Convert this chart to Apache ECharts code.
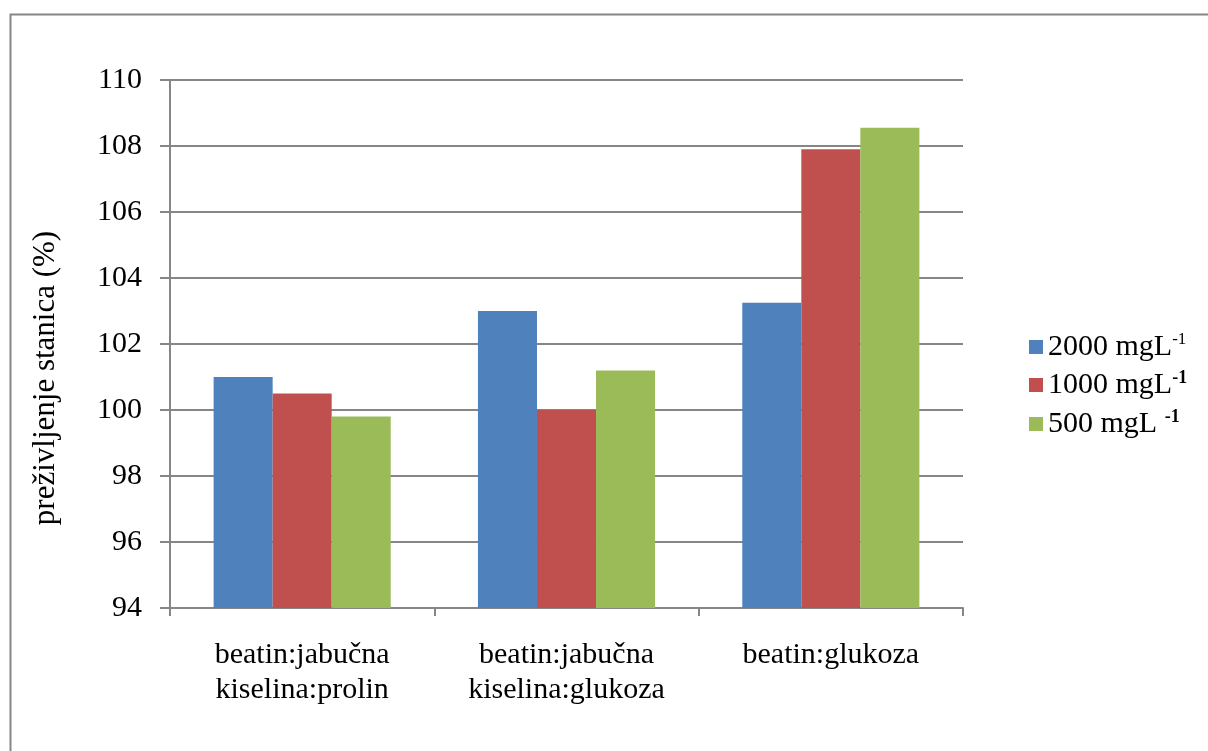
<!DOCTYPE html>
<html>
<head>
<meta charset="utf-8">
<script src="https://cdn.jsdelivr.net/npm/echarts@6/dist/echarts.min.js"></script>
<style>html,body{margin:0;padding:0;background:#fff}#c{width:1208px;height:751px}</style>
</head>
<body>
<div id="c"></div>
<script>
const categories = ['beatin:jabučna\nkiselina:prolin', 'beatin:jabučna\nkiselina:glukoza', 'beatin:glukoza'];
const seriesNames = ['2000 mgL-1', '1000 mgL-1', '500 mgL -1'];
const s2000 = [101.0, 103.0, 103.25];
const s1000 = [100.5, 100.0, 107.9];
const s500 = [99.8, 101.2, 108.55];
const yTicks = [94, 96, 98, 100, 102, 104, 106, 108, 110];
const colors = ['#4F81BD', '#C0504D', '#9BBB59'];

const font = '"Liberation Serif", "DejaVu Serif", serif';
const gray = '#868686';
const chart = echarts.init(document.getElementById('c'));
const legendRich = {
  t: {fontFamily: font, fontSize: 30, color: '#000', lineHeight: 32},
  s: {fontFamily: font, fontSize: 17, color: '#000', verticalAlign: 'top', lineHeight: 32, padding: [0, 0, 14, 0]},
  sb: {fontFamily: font, fontSize: 18, fontWeight: 'bold', color: '#000', verticalAlign: 'top', lineHeight: 32, padding: [0, 0, 14, 0]}
};
chart.setOption({
  animation: false,
  graphic: [{
    type: 'rect', shape: {x: 10.5, y: 14.5, width: 1220, height: 760},
    style: {fill: 'none', stroke: gray, lineWidth: 2}, silent: true, z: -10
  }],
  grid: {left: 170, top: 80, width: 793, height: 528, containLabel: false},
  legend: {
    orient: 'vertical', left: 1024, top: 326, itemWidth: 14, itemHeight: 14, itemGap: 7,
    icon: 'rect',
    data: seriesNames,
    formatter: function (n) {
      if (n === seriesNames[0]) return '{t|2000 mgL}{s|-1}';
      if (n === seriesNames[1]) return '{t|1000 mgL}{sb|-1}';
      return '{t|500 mgL }{sb|-1}';
    },
    textStyle: {rich: legendRich, fontFamily: font, fontSize: 30}
  },
  xAxis: {
    type: 'category', data: categories,
    axisLine: {lineStyle: {color: gray, width: 2}},
    axisTick: {show: true, length: 8, lineStyle: {color: gray, width: 2}},
    axisLabel: {fontFamily: font, fontSize: 30, color: '#000', margin: 30, lineHeight: 35, interval: 0}
  },
  yAxis: {
    type: 'value', min: 94, max: 110, interval: 2,
    name: 'preživljenje stanica (%)', nameLocation: 'middle', nameGap: 109, nameRotate: 90,
    nameTextStyle: {fontFamily: font, fontSize: 31, color: '#000', padding: [0, 68, 0, 0]},
    axisLine: {show: true, lineStyle: {color: gray, width: 2}},
    axisTick: {show: true, length: 10, lineStyle: {color: gray, width: 2}},
    axisLabel: {fontFamily: font, fontSize: 30, color: '#000', margin: 28,
      formatter: function (v) { return yTicks.indexOf(v) >= 0 ? String(v) : ''; }},
    splitLine: {lineStyle: {color: gray, width: 2}}
  },
  series: [
    {name: seriesNames[0], type: 'bar', data: s2000, itemStyle: {color: colors[0]}, barGap: '0%', barCategoryGap: '33%'},
    {name: seriesNames[1], type: 'bar', data: s1000, itemStyle: {color: colors[1]}, barGap: '0%', barCategoryGap: '33%'},
    {name: seriesNames[2], type: 'bar', data: s500, itemStyle: {color: colors[2]}, barGap: '0%', barCategoryGap: '33%'}
  ]
});
</script>
</body>
</html>
